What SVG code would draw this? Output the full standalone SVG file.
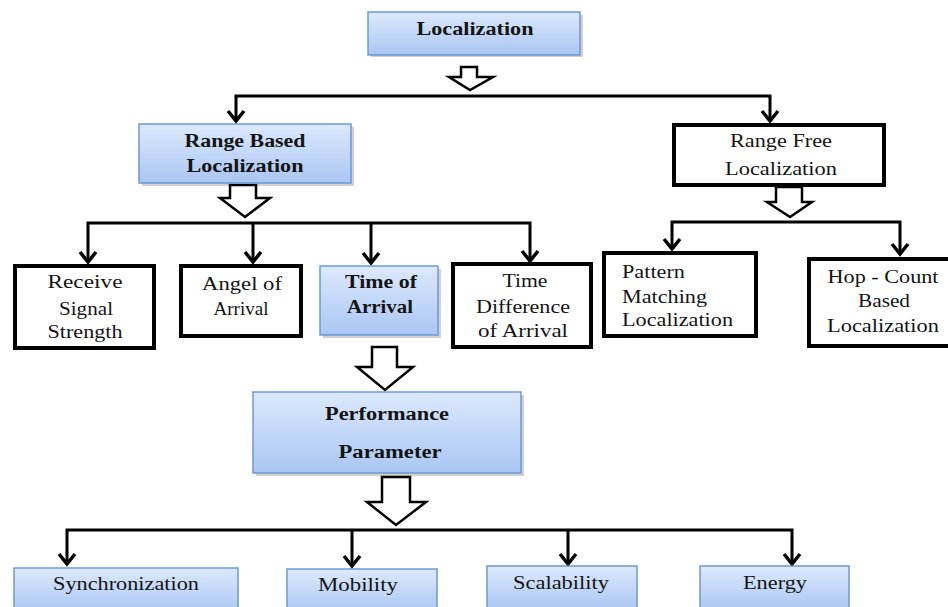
<svg xmlns="http://www.w3.org/2000/svg" width="948" height="607" viewBox="0 0 948 607">
<defs>
<linearGradient id="blue" x1="0" y1="0" x2="0" y2="1">
<stop offset="0" stop-color="#dde9fc"/>
<stop offset="1" stop-color="#a9c6f3"/>
</linearGradient>
</defs>
<style>
.blue{fill:url(#blue);stroke:#6d99d4;stroke-width:1.5}
.shadow{fill:#000;opacity:0.18}
.white{fill:#fff;stroke:#000;stroke-width:4}
.t{font-family:"Liberation Serif","Times New Roman","DejaVu Serif",serif;font-size:18.5px;fill:#141414;text-anchor:middle}
.b{font-weight:bold}
.l{text-anchor:start}
.line{fill:none;stroke:#000;stroke-width:3}
.head{fill:none;stroke:#000;stroke-width:3.5;stroke-linejoin:miter}
.block{fill:#fff;stroke:#000;stroke-width:2.5;stroke-linejoin:miter}
</style>
<rect width="948" height="607" fill="#fff"/>

<g id="connectors">
<path class="line" d="M236 121 V96 H770 V121"/>
<path class="head" d="M228 111 L236 121 L244 111"/>
<path class="head" d="M762 111 L770 121 L778 111"/>
<path class="line" d="M88 262 V223 H530 V261"/>
<path class="line" d="M253 223 V262"/>
<path class="line" d="M371 223 V263"/>
<path class="head" d="M80 252 L88 262 L96 252"/>
<path class="head" d="M245 252 L253 262 L261 252"/>
<path class="head" d="M363 253 L371 263 L379 253"/>
<path class="head" d="M522 251 L530 261 L538 251"/>
<path class="line" d="M672 249 V222 H900 V254"/>
<path class="head" d="M664 239 L672 249 L680 239"/>
<path class="head" d="M892 244 L900 254 L908 244"/>
<path class="line" d="M67 564 V530 H792 V564"/>
<path class="line" d="M352 530 V566"/>
<path class="line" d="M568 530 V564"/>
<path class="head" d="M59 554 L67 564 L75 554"/>
<path class="head" d="M344 556 L352 566 L360 556"/>
<path class="head" d="M560 554 L568 564 L576 554"/>
<path class="head" d="M784 554 L792 564 L800 554"/>
<polygon class="block" points="461,67 477,67 477,77 493,77 470,90 449,77 461,77"/>
<polygon class="block" points="230,185 256,185 256,198 270,198 245,217 220,198 230,198"/>
<polygon class="block" points="776,187 802,187 802,202 812,202 790,217 767,202 776,202"/>
<polygon class="block" points="372,347 397,347 397,367 413,367 385,390 357,367 372,367"/>
<polygon class="block" points="382,477 410,477 410,502 426,502 396,525 367,502 382,502"/>
</g>

<g id="localization">
<rect class="shadow" x="371" y="15" width="212" height="42"/>
<rect class="blue" x="368" y="12" width="212" height="43"/>
<text class="t b" x="475" y="35" textLength="117" lengthAdjust="spacingAndGlyphs">Localization</text>
</g>

<g id="range-based">
<rect class="shadow" x="142" y="127" width="212" height="59"/>
<rect class="blue" x="139" y="124" width="212" height="59"/>
<text class="t b" x="245" y="147" textLength="121" lengthAdjust="spacingAndGlyphs">Range Based</text>
<text class="t b" x="245" y="172" textLength="117" lengthAdjust="spacingAndGlyphs">Localization</text>
</g>

<g id="range-free">
<rect class="white" x="674" y="125" width="210" height="60"/>
<text class="t" x="781" y="147" textLength="102" lengthAdjust="spacingAndGlyphs">Range Free</text>
<text class="t" x="781" y="175" textLength="112" lengthAdjust="spacingAndGlyphs">Localization</text>
</g>

<g id="rss">
<rect class="white" x="15" y="266" width="139" height="82"/>
<text class="t" x="85" y="288" textLength="75" lengthAdjust="spacingAndGlyphs">Receive</text>
<text class="t" x="86" y="315" textLength="54" lengthAdjust="spacingAndGlyphs">Signal</text>
<text class="t" x="85" y="338" textLength="75" lengthAdjust="spacingAndGlyphs">Strength</text>
</g>

<g id="aoa">
<rect class="white" x="181" y="266" width="120" height="70"/>
<text class="t" x="242" y="290" textLength="80" lengthAdjust="spacingAndGlyphs">Angel of</text>
<text class="t" x="241" y="315" textLength="55" lengthAdjust="spacingAndGlyphs">Arrival</text>
</g>

<g id="toa">
<rect class="shadow" x="323" y="269" width="118" height="69"/>
<rect class="blue" x="320" y="266" width="118" height="69"/>
<text class="t b" x="381" y="288" textLength="72" lengthAdjust="spacingAndGlyphs">Time of</text>
<text class="t b" x="380" y="313" textLength="66" lengthAdjust="spacingAndGlyphs">Arrival</text>
</g>

<g id="tdoa">
<rect class="white" x="453" y="264" width="138" height="83"/>
<text class="t" x="525" y="287" textLength="45" lengthAdjust="spacingAndGlyphs">Time</text>
<text class="t" x="523" y="313" textLength="94" lengthAdjust="spacingAndGlyphs">Difference</text>
<text class="t" x="523" y="337" textLength="90" lengthAdjust="spacingAndGlyphs">of Arrival</text>
</g>

<g id="pattern">
<rect class="white" x="604" y="253" width="152" height="83"/>
<text class="t l" x="622" y="278" textLength="63" lengthAdjust="spacingAndGlyphs">Pattern</text>
<text class="t l" x="622" y="303" textLength="85" lengthAdjust="spacingAndGlyphs">Matching</text>
<text class="t l" x="622" y="326" textLength="111" lengthAdjust="spacingAndGlyphs">Localization</text>
</g>

<g id="hop-count">
<rect class="white" x="809" y="259" width="145" height="87"/>
<text class="t" x="883" y="283" textLength="111" lengthAdjust="spacingAndGlyphs">Hop - Count</text>
<text class="t" x="884" y="307" textLength="52" lengthAdjust="spacingAndGlyphs">Based</text>
<text class="t" x="883" y="332" textLength="112" lengthAdjust="spacingAndGlyphs">Localization</text>
</g>

<g id="performance">
<rect class="shadow" x="256" y="395" width="268" height="81"/>
<rect class="blue" x="253" y="392" width="268" height="81"/>
<text class="t b" x="387" y="420" textLength="124" lengthAdjust="spacingAndGlyphs">Performance</text>
<text class="t b" x="390" y="458" textLength="103" lengthAdjust="spacingAndGlyphs">Parameter</text>
</g>

<g id="synchronization">
<rect class="blue" x="14" y="568" width="224" height="45"/>
<text class="t" x="126" y="590" textLength="146" lengthAdjust="spacingAndGlyphs">Synchronization</text>
</g>
<g id="mobility">
<rect class="blue" x="287" y="569" width="150" height="45"/>
<text class="t" x="358" y="591" textLength="80" lengthAdjust="spacingAndGlyphs">Mobility</text>
</g>
<g id="scalability">
<rect class="blue" x="487" y="566" width="150" height="45"/>
<text class="t" x="561" y="589" textLength="96" lengthAdjust="spacingAndGlyphs">Scalability</text>
</g>
<g id="energy">
<rect class="blue" x="700" y="566" width="149" height="45"/>
<text class="t" x="775" y="589" textLength="64" lengthAdjust="spacingAndGlyphs">Energy</text>
</g>
</svg>
